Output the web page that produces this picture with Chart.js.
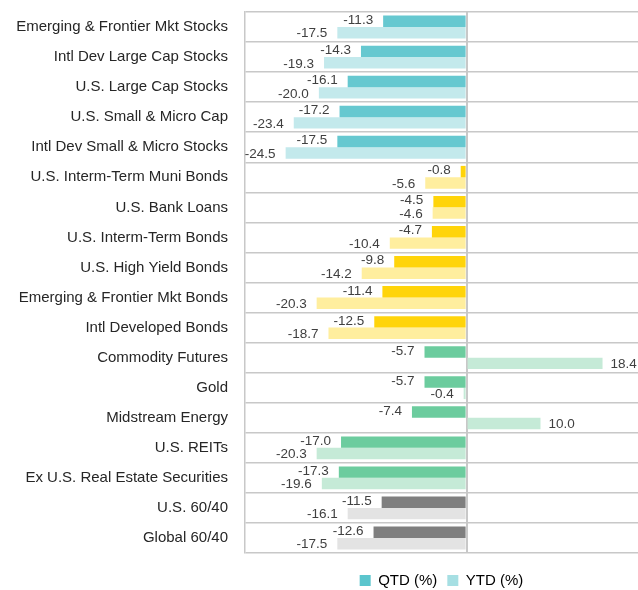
<!DOCTYPE html>
<html>
<head>
<meta charset="utf-8">
<script src="https://cdn.jsdelivr.net/npm/chart.js@4/dist/chart.umd.min.js"></script>
<style>
  html, body { margin: 0; padding: 0; background: #fff; }
  #wrap { width: 638px; height: 590px; position: relative; }
</style>
</head>
<body>
<div id="wrap"><canvas id="perfChart"></canvas></div>
<script>
const categories = [
    "Emerging & Frontier Mkt Stocks", "Intl Dev Large Cap Stocks", "U.S. Large Cap Stocks",
    "U.S. Small & Micro Cap", "Intl Dev Small & Micro Stocks", "U.S. Interm-Term Muni Bonds",
    "U.S. Bank Loans", "U.S. Interm-Term Bonds", "U.S. High Yield Bonds",
    "Emerging & Frontier Mkt Bonds", "Intl Developed Bonds", "Commodity Futures",
    "Gold", "Midstream Energy", "U.S. REITs", "Ex U.S. Real Estate Securities",
    "U.S. 60/40", "Global 60/40"
];
const qtdValues = [-11.3, -14.3, -16.1, -17.2, -17.5, -0.8, -4.5, -4.7, -9.8, -11.4, -12.5, -5.7, -5.7, -7.4, -17.0, -17.3, -11.5, -12.6];
const ytdValues = [-17.5, -19.3, -20.0, -23.4, -24.5, -5.6, -4.6, -10.4, -14.2, -20.3, -18.7, 18.4, -0.4, 10.0, -20.3, -19.6, -16.1, -17.5];
// asset group of each category: 0 equity, 1 fixed income, 2 real assets, 3 balanced
const groups = [0, 0, 0, 0, 0, 1, 1, 1, 1, 1, 1, 2, 2, 2, 2, 2, 3, 3];
const seriesNames = ["QTD (%)", "YTD (%)"];

const qtdColors = ["#66c8d0", "#ffd40a", "#6ccc9e", "#7f7f7f"];
const ytdColors = ["#c3e9ec", "#ffee9e", "#c5ead7", "#e3e3e3"];

const FONT = "'Liberation Sans', Arial, sans-serif";

// draws value labels at the end of each bar
const barLabels = {
    id: "barLabels",
    afterDatasetsDraw(chart) {
        const ctx = chart.ctx;
        ctx.save();
        ctx.font = "13.5px " + FONT;
        ctx.fillStyle = "#404040";
        ctx.textBaseline = "middle";
        chart.data.datasets.forEach((ds, di) => {
            const meta = chart.getDatasetMeta(di);
            meta.data.forEach((bar, i) => {
                const v = ds.data[i];
                const dy = di === 0 ? -1 : 1;
                if (v < 0) {
                    ctx.textAlign = "right";
                    ctx.fillText(v.toFixed(1), bar.x - 10, bar.y + dy);
                } else {
                    ctx.textAlign = "left";
                    ctx.fillText(v.toFixed(1), bar.x + 8, bar.y + dy);
                }
            });
        });
        ctx.restore();
    }
};

new Chart(document.getElementById("perfChart").getContext("2d"), {
    type: "bar",
    data: {
        labels: categories,
        datasets: [
            {
                label: seriesNames[0],
                data: qtdValues,
                backgroundColor: groups.map(g => qtdColors[g]),
                categoryPercentage: 0.76,
                barPercentage: 1.0
            },
            {
                label: seriesNames[1],
                data: ytdValues,
                backgroundColor: groups.map(g => ytdColors[g]),
                categoryPercentage: 0.76,
                barPercentage: 1.0
            }
        ]
    },
    options: {
        indexAxis: "y",
        responsive: true,
        maintainAspectRatio: false,
        animation: false,
        layout: { padding: { top: 12, right: 0, left: 0, bottom: -8 } },
        scales: {
            x: {
                min: -30,
                max: 23.2,
                afterFit: scale => { scale.height = 10; },
                ticks: { display: false, stepSize: 5 },
                grid: {
                    drawTicks: false,
                    lineWidth: 2,
                    color: c => (c.tick && c.tick.value === 0) ? "#c8c8c8" : "rgba(0,0,0,0)"
                },
                border: { display: false }
            },
            y: {
                afterFit: scale => { scale.width = 245; },
                ticks: {
                    color: "#262626",
                    padding: 1,
                    font: { family: FONT, size: 15 }
                },
                grid: {
                    color: "#c8c8c8",
                    lineWidth: 1.5,
                    drawTicks: true,
                    tickLength: 16,
                    tickColor: "rgba(0,0,0,0)"
                },
                border: { color: "#c8c8c8", width: 1.5 }
            }
        },
        plugins: {
            legend: {
                position: "bottom",
                fullSize: false,
                labels: {
                    color: "#404040",
                    boxWidth: 11,
                    boxHeight: 11,
                    padding: 10,
                    font: { family: FONT, size: 15 },
                    generateLabels: () => [
                        { text: seriesNames[0], fillStyle: "#5bc5cd", strokeStyle: "#5bc5cd", lineWidth: 0, datasetIndex: 0 },
                        { text: seriesNames[1], fillStyle: "#a6dfe3", strokeStyle: "#a6dfe3", lineWidth: 0, datasetIndex: 1 }
                    ]
                }
            },
            tooltip: { enabled: false }
        }
    },
    plugins: [barLabels]
});
</script>
</body>
</html>
